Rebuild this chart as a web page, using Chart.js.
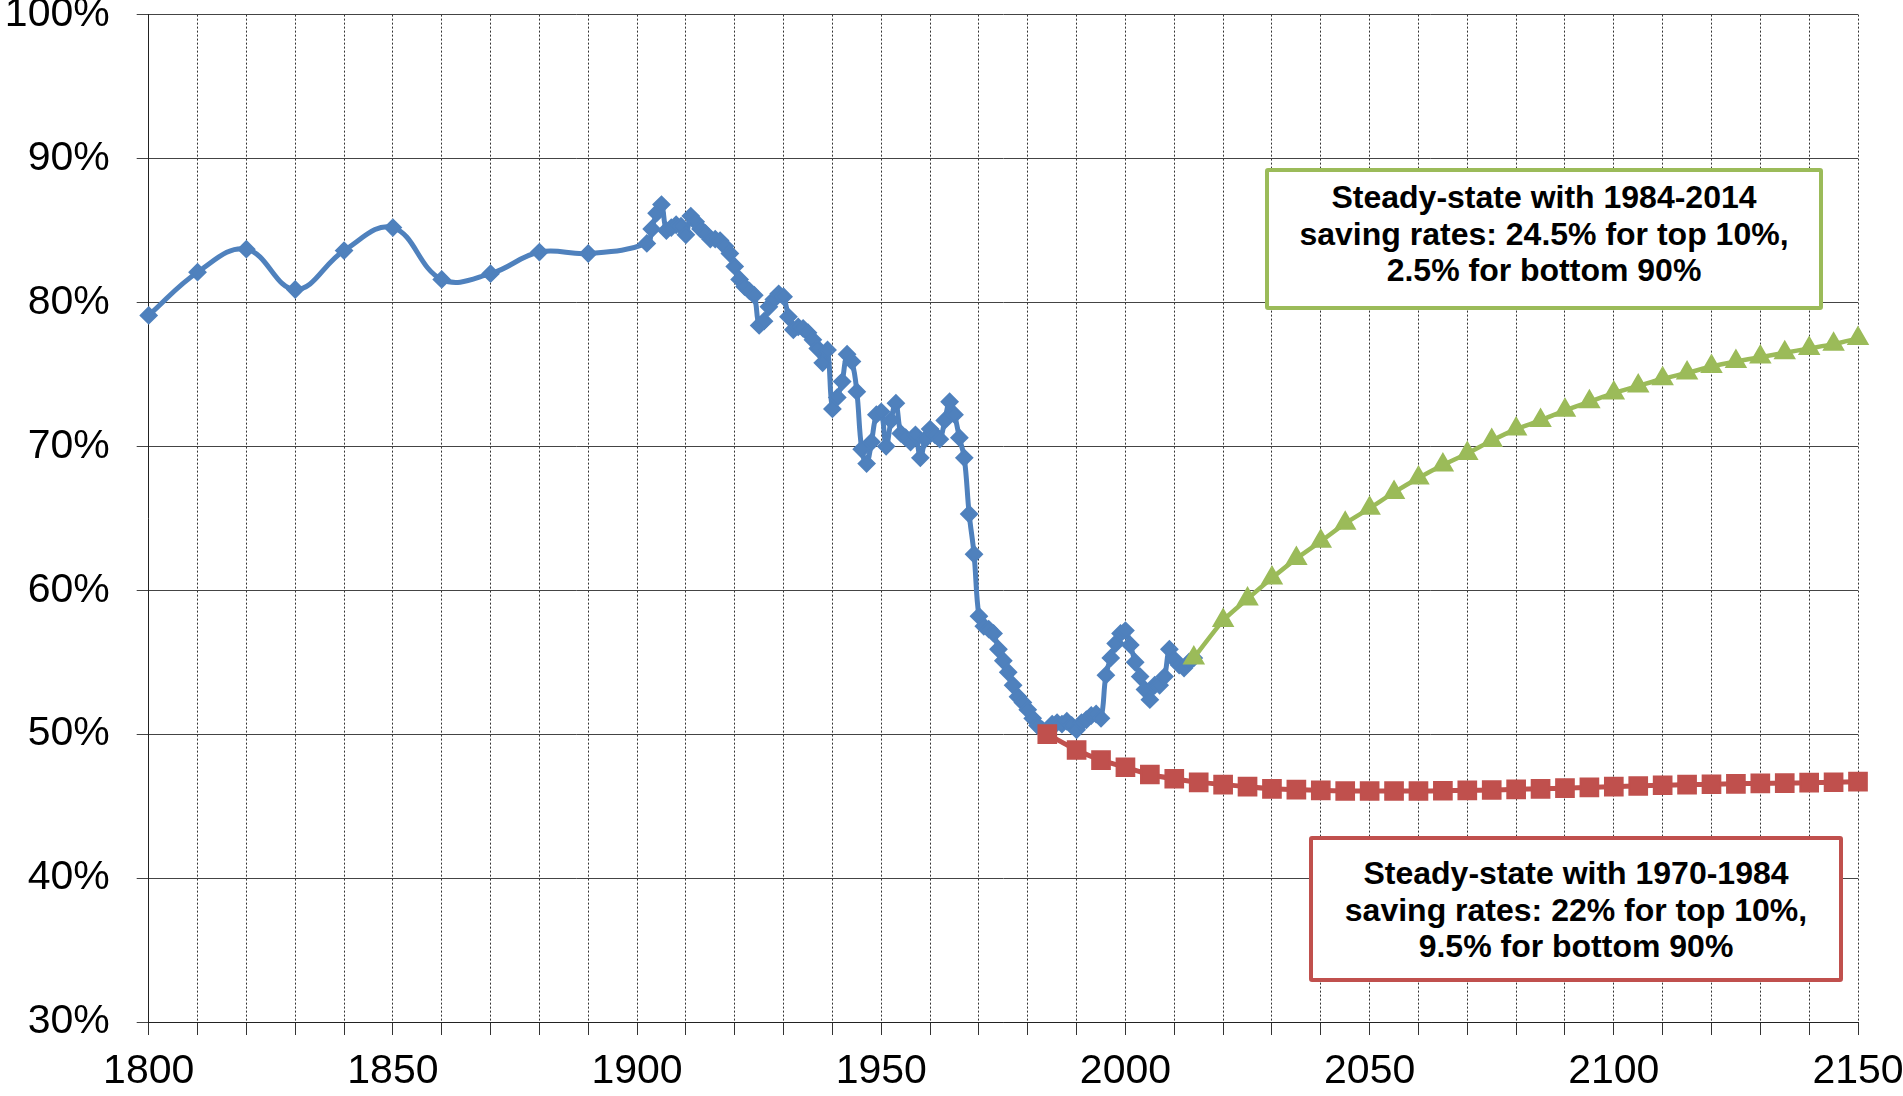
<!DOCTYPE html>
<html>
<head>
<meta charset="utf-8">
<script src="https://cdn.jsdelivr.net/npm/chart.js@4.4.1/dist/chart.umd.min.js"></script>
<style>
  html, body { margin: 0; padding: 0; background: #fff; }
  #wrap { position: relative; width: 1903px; height: 1096px; overflow: hidden; }
  canvas { display: block; }
  .note {
    position: absolute; box-sizing: border-box; background: #fff;
    border: 4px solid; border-radius: 3px; color: #000; text-align: center;
    font: bold 32px "Liberation Sans", Arial, sans-serif; line-height: 36.5px; white-space: nowrap;
  }
</style>
</head>
<body>
<div id="wrap">
  <canvas id="chart" width="1903" height="1096"></canvas>
  <div class="note" style="left:1265px;top:168px;width:558px;height:142px;border-color:#9BBB59;padding-top:7px">Steady-state with 1984-2014<br>saving rates: 24.5% for top 10%,<br>2.5% for bottom 90%</div>
  <div class="note" style="left:1309px;top:836px;width:534px;height:146px;border-color:#C0504D;padding-top:15px">Steady-state with 1970-1984<br>saving rates: 22% for top 10%,<br>9.5% for bottom 90%</div>
</div>
<script>
// observed series (decadal to 1890, then annual)
const histYears = [
  1800, 1810, 1820, 1830, 1840, 1850, 1860, 1870, 1880, 1890,
  1902, 1903, 1904, 1905, 1906, 1907, 1908, 1909, 1910,
  1911, 1912, 1913, 1914, 1915, 1916, 1917, 1918, 1919, 1920,
  1921, 1922, 1923, 1924, 1925, 1926, 1927, 1928, 1929, 1930,
  1931, 1932, 1933, 1934, 1935, 1936, 1937, 1938, 1939, 1940,
  1941, 1942, 1943, 1944, 1945, 1946, 1947, 1948, 1949, 1950,
  1951, 1952, 1953, 1954, 1955, 1956, 1957, 1958, 1959, 1960,
  1961, 1962, 1963, 1964, 1965, 1966, 1967, 1968, 1969, 1970,
  1971, 1972, 1973, 1974, 1975, 1976, 1977, 1978, 1979, 1980,
  1981, 1982, 1983, 1984, 1985, 1986, 1987, 1988, 1989, 1990,
  1991, 1992, 1993, 1994, 1995, 1996, 1997, 1998, 1999, 2000,
  2001, 2002, 2003, 2004, 2005, 2006, 2007, 2008, 2009, 2010,
  2011, 2012, 2013, 2014
];
const histShare = [
  79.1, 82.1, 83.7, 80.9, 83.6, 85.2, 81.6, 82.0, 83.5, 83.4,
  84.1, 85.1, 86.2, 86.8, 85.0, 85.2, 85.4, 85.3, 84.7,
  86.0, 85.6, 85.1, 84.8, 84.4, 84.4, 84.3, 83.9, 83.4, 82.5,
  81.6, 81.1, 80.8, 80.5, 78.4, 78.7, 79.7, 80.2, 80.6, 80.4,
  79.0, 78.1, 78.3, 78.2, 77.9, 77.4, 76.8, 75.8, 76.7, 72.6,
  73.4, 74.5, 76.4, 75.9, 73.8, 69.8, 68.8, 70.3, 72.2, 72.4,
  70.0, 71.8, 73.0, 70.9, 70.6, 70.3, 70.8, 69.2, 70.5, 71.2,
  70.8, 70.5, 71.8, 73.1, 72.2, 70.6, 69.2, 65.3, 62.5, 58.2,
  57.5, 57.3, 57.0, 55.9, 55.1, 54.3, 53.4, 52.6, 52.2, 51.7,
  51.1, 50.6, 50.3, 50.2, 50.7, 50.8, 50.7, 50.9, 50.6, 50.3,
  50.8, 51.0, 51.3, 51.4, 51.1, 54.1, 55.3, 56.3, 57.0, 57.2,
  56.2, 55.0, 54.0, 53.1, 52.4, 53.4, 53.4, 54.0, 55.9, 55.2,
  54.8, 54.6, 55.0, 55.3
];

// steady state with 1970-1984 saving rates
const ss1970Years = [
  1984, 1990, 1995, 2000, 2005, 2010, 2015, 2020, 2025, 2030,
  2035, 2040, 2045, 2050, 2055, 2060, 2065, 2070, 2075, 2080,
  2085, 2090, 2095, 2100, 2105, 2110, 2115, 2120, 2125, 2130,
  2135, 2140, 2145, 2150
];
const ss1970Share = [
  50.0, 48.9, 48.2, 47.7, 47.2, 46.9, 46.65, 46.5, 46.35, 46.2,
  46.15, 46.1, 46.05, 46.05, 46.05, 46.05, 46.07, 46.1, 46.12, 46.17,
  46.2, 46.25, 46.3, 46.35, 46.4, 46.45, 46.5, 46.52, 46.55, 46.58,
  46.6, 46.63, 46.66, 46.7
];

// steady state with 1984-2014 saving rates
const ss1984Years = [
  2014, 2020, 2025, 2030, 2035, 2040, 2045, 2050, 2055, 2060,
  2065, 2070, 2075, 2080, 2085, 2090, 2095, 2100, 2105, 2110,
  2115, 2120, 2125, 2130, 2135, 2140, 2145, 2150
];
const ss1984Share = [
  55.3, 57.9, 59.4, 60.85, 62.2, 63.4, 64.65, 65.7, 66.8, 67.8,
  68.7, 69.5, 70.4, 71.2, 71.8, 72.5, 73.1, 73.7, 74.2, 74.7,
  75.1, 75.55, 75.9, 76.2, 76.5, 76.8, 77.1, 77.5
];

const yTicks = { min: 30, max: 100, step: 10 };
const xTicks = { min: 1800, max: 2150, step: 10, labelEvery: 50 };

const BLUE = '#4F81BD';
const RED = '#C0504D';
const GREEN = '#9BBB59';

Chart.defaults.font.family = '"Liberation Sans", Arial, sans-serif';

function pts(xs, ys) {
  return xs.map((x, i) => ({ x: x, y: ys[i] }));
}

const ctx = document.getElementById('chart').getContext('2d');

new Chart(ctx, {
  type: 'line',
  data: {
    datasets: [
      {
        label: 'Observed',
        data: pts(histYears, histShare),
        borderColor: BLUE, backgroundColor: BLUE,
        pointBorderColor: BLUE, pointBackgroundColor: BLUE,
        borderWidth: 5, pointStyle: 'rectRot', pointRadius: 8, pointBorderWidth: 2,
        tension: 0.4, order: 3, clip: false
      },
      {
        label: 'Steady-state 1970-1984',
        data: pts(ss1970Years, ss1970Share),
        borderColor: RED, backgroundColor: RED,
        pointBorderColor: RED, pointBackgroundColor: RED,
        borderWidth: 5, pointStyle: 'rect', pointRadius: 12.5, pointBorderWidth: 2,
        tension: 0.2, order: 2, clip: false
      },
      {
        label: 'Steady-state 1984-2014',
        data: pts(ss1984Years, ss1984Share),
        borderColor: GREEN, backgroundColor: GREEN,
        pointBorderColor: GREEN, pointBackgroundColor: GREEN,
        borderWidth: 4.5, pointStyle: 'triangle', pointRadius: 11, pointBorderWidth: 2,
        tension: 0.2, order: 1, clip: false
      }
    ]
  },
  options: {
    responsive: false,
    animation: false,
    devicePixelRatio: 1,
    layout: { padding: 0 },
    plugins: { legend: { display: false }, tooltip: { enabled: false } },
    scales: {
      x: {
        type: 'linear',
        min: xTicks.min, max: xTicks.max,
        ticks: {
          stepSize: xTicks.step, autoSkip: false, maxRotation: 0, padding: 12,
          color: '#000', font: { size: 41 },
          callback: v => (Math.round(v) % xTicks.labelEvery === 0 ? String(Math.round(v)) : '')
        },
        grid: { color: '#333', lineWidth: 1, tickLength: 13, tickColor: '#333' },
        border: { color: '#222', width: 1, dash: [2, 2] },
        afterFit: s => { s.height = 74; s.paddingRight = 45; s.paddingLeft = 0; }
      },
      y: {
        min: yTicks.min, max: yTicks.max,
        ticks: {
          stepSize: yTicks.step, padding: 27, color: '#000', font: { size: 41 },
          callback: v => v + '%'
        },
        grid: { color: '#444', lineWidth: 1, tickLength: 12 },
        border: { color: '#222', width: 1 },
        afterFit: s => { s.width = 148.7; s.paddingTop = 14.6; s.paddingBottom = 0; }
      }
    }
  }
});
</script>
</body>
</html>
